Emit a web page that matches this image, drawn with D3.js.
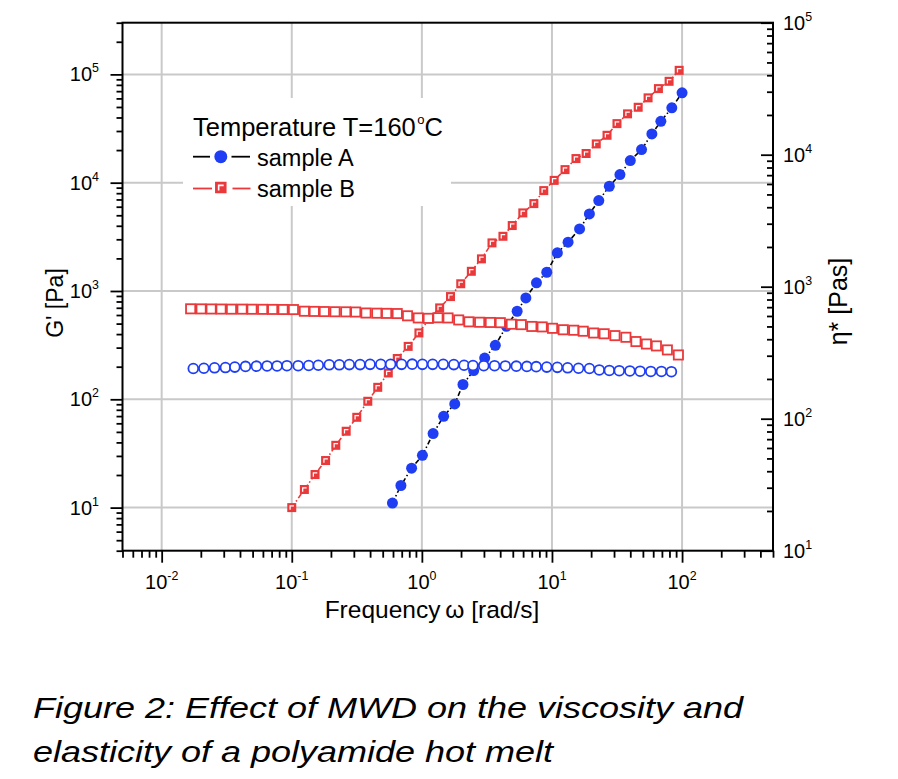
<!DOCTYPE html>
<html><head><meta charset="utf-8">
<script src="https://cdn.jsdelivr.net/npm/d3@7/dist/d3.min.js"></script>
<style>
body{margin:0;background:#fff}
svg{display:block}
text{font-family:"Liberation Sans",Arial,Helvetica,sans-serif;fill:#000}
</style>
</head><body>
<svg id="chart" width="898" height="779"></svg>
<script>
// ---------- DATA ----------
// Sample B, storage modulus G' [Pa] (filled red squares, left axis)
const omegaB_G = [0.100,0.125,0.151,0.182,0.218,0.262,0.316,0.384,0.458,0.552,0.647,0.785,0.949,1.14,1.37,1.66,1.99,2.40,2.87,3.46,4.20,4.95,5.97,7.26,8.65,10.4,12.6,15.3,18.3,21.9,26.5,31.6,38.1,46.0,54.8,65.8,79.5,95.0];
const gB = [10.0,14.7,20.2,27.2,37.6,50.7,68.2,95.9,129,175,238,308,410,553,698,888,1166,1520,1980,2780,3200,4020,5260,6410,8450,10500,13200,16700,18600,22800,27400,35100,43200,49700,60700,73900,86300,109000];
// Sample A, storage modulus G' [Pa] (filled blue circles, left axis)
const omegaA_G = [0.594,0.690,0.834,1.01,1.22,1.47,1.79,2.07,2.50,3.04,3.67,4.46,5.40,6.30,7.60,9.12,11.0,13.3,16.3,19.4,22.9,27.6,33.3,40.0,48.8,58.6,68.7,83.4,100];
const gA = [11.0,16.0,23.1,30.4,48.2,69.7,90.7,137,184,240,315,472,650,863,1190,1489,2250,2820,3740,5150,6840,9270,11880,16000,20200,28200,36900,49100,67500];
// Sample B, complex viscosity eta* [Pas] (open red squares, right axis)
const omegaB_E = [0.0167,0.0201,0.0240,0.0286,0.0344,0.0415,0.0495,0.0597,0.0713,0.0857,0.103,0.125,0.149,0.178,0.215,0.260,0.310,0.372,0.450,0.536,0.647,0.776,0.938,1.12,1.33,1.59,1.92,2.30,2.78,3.36,4.01,4.87,5.81,7.00,8.41,10.1,12.2,14.7,17.4,20.9,25.2,30.5,37.0,44.2,53.2,63.5,77.1,93.7];
const etaB = [680,679,678,677,676,676,675,674,673,672,671,652,650,648,646,645,643,632,630,628,626,602,580,576,582,580,560,542,538,536,534,520,516,500,496,484,472,468,460,446,440,426,414,384,368,356,332,304];
// Sample A, complex viscosity eta* [Pas] (open blue circles, right axis)
const omegaA_E = [0.0175,0.0211,0.0255,0.0309,0.0365,0.0441,0.0535,0.0646,0.0771,0.0918,0.112,0.135,0.160,0.194,0.232,0.277,0.335,0.400,0.483,0.575,0.698,0.843,1.01,1.21,1.46,1.76,2.11,2.47,2.99,3.62,4.38,5.32,6.41,7.57,9.12,11.0,13.2,16.0,19.4,23.1,27.6,32.9,39.7,47.6,57.5,69.4,82.8];
const etaA = [240,241,243,244,246,249,250,251,251,252,252,253,254,256,256,257,257,258,258,258,258,259,258,258,258,257,254,253,252,252,251,250,249,248,246,245,243,241,240,234,232,231,230,229,228,228,227];

// Axis ranges and tick labels
const xDomain = [0.005, 500];
const yLeftDomain = [4, 3e5];
const yRightDomain = [10, 1e5];
const xMajor = [0.01, 0.1, 1, 10, 100];
const xMajorExp = ["-2", "-1", "0", "1", "2"];
const yLeftMajor = [10, 100, 1000, 10000, 100000];
const yLeftMajorExp = ["1", "2", "3", "4", "5"];
const yRightMajor = [10, 100, 1000, 10000, 100000];
const yRightMajorExp = ["1", "2", "3", "4", "5"];

const legendTitle = "Temperature T=160";
const seriesNames = ["sample A", "sample B"];
const xTitle = "Frequency\u2009\u03c9 [rad/s]";
const yLeftTitle = "G' [Pa]";
const yRightTitle = "\u03b7* [Pas]";
const caption = ["Figure 2: Effect of MWD on the viscosity and", "elasticity of a polyamide hot melt"];

// ---------- LAYOUT ----------
const L = 122.5, R = 773, T = 22.7, B = 550.7;
const BLUE = "#1f3ef4", RED = "#e9393b", GRID = "#c9c9c9";

const svg = d3.select("#chart");
svg.append("rect").attr("width", 898).attr("height", 779).attr("fill", "#fff");

const x = d3.scaleLog().domain(xDomain).range([L, R]);
const yL = d3.scaleLog().domain(yLeftDomain).range([B, T]);
const yR = d3.scaleLog().domain(yRightDomain).range([B, T]);

// gridlines
const grid = svg.append("g");
grid.selectAll("line.v").data(xMajor).join("line")
  .attr("x1", d => x(d)).attr("x2", d => x(d)).attr("y1", T).attr("y2", B)
  .attr("stroke", GRID).attr("stroke-width", 2);
grid.selectAll("line.h").data(yLeftMajor).join("line")
  .attr("x1", L).attr("x2", R).attr("y1", d => yL(d)).attr("y2", d => yL(d))
  .attr("stroke", GRID).attr("stroke-width", 2);

// legend background (hides grid)
svg.append("rect").attr("x", 183).attr("y", 98).attr("width", 268).attr("height", 108).attr("fill", "#fff");

// ---------- SERIES ----------
const zip = (a, b) => a.map((v, i) => [v, b[i]]);
const dataBG = zip(omegaB_G, gB), dataAG = zip(omegaA_G, gA);
const dataBE = zip(omegaB_E, etaB), dataAE = zip(omegaA_E, etaA);

const lineL = d3.line().x(d => x(d[0])).y(d => yL(d[1]));
const DASH = "5,2.5,1.5,2.5";
svg.append("path").attr("d", lineL(dataBG)).attr("fill", "none").attr("stroke", RED)
  .attr("stroke-width", 1.6).attr("stroke-dasharray", DASH);
svg.append("path").attr("d", lineL(dataAG)).attr("fill", "none").attr("stroke", "#000")
  .attr("stroke-width", 1.6).attr("stroke-dasharray", DASH);

function filledSquare(g, cx, cy, s) {
  g.append("rect").attr("x", cx - s / 2).attr("y", cy - s / 2).attr("width", s).attr("height", s).attr("fill", RED);
  const k = s / 8;
  g.append("path").attr("d", `M${cx - 1.5 * k},${cy + 2 * k}L${cx - 1.5 * k},${cy - 1.5 * k}L${cx + 2 * k},${cy - 1.5 * k}`)
    .attr("fill", "none").attr("stroke", "#fff").attr("stroke-width", 1.1 * k);
}
const gBG = svg.append("g");
dataBG.forEach(d => filledSquare(gBG, x(d[0]), yL(d[1]), 9));
svg.append("g").selectAll("circle").data(dataAG).join("circle")
  .attr("cx", d => x(d[0])).attr("cy", d => yL(d[1])).attr("r", 5.5).attr("fill", BLUE);

svg.append("g").selectAll("circle").data(dataAE).join("circle")
  .attr("cx", d => x(d[0])).attr("cy", d => yR(d[1])).attr("r", 4.9)
  .attr("fill", "#fff").attr("stroke", BLUE).attr("stroke-width", 1.8);
svg.append("g").selectAll("rect").data(dataBE).join("rect")
  .attr("x", d => x(d[0]) - 4.6).attr("y", d => yR(d[1]) - 4.6).attr("width", 9.2).attr("height", 9.2)
  .attr("fill", "#fff").attr("stroke", RED).attr("stroke-width", 1.8);

// ---------- AXES ----------
function styleAxis(g) {
  g.select(".domain").remove();
  g.selectAll(".tick line").attr("stroke", "#000").attr("stroke-width", 1.8);
}
const isMajor = v => Math.abs(Math.log10(v) - Math.round(Math.log10(v))) < 1e-9;
const xMinor = x.ticks().filter(v => !isMajor(v));
const yLMinor = yL.ticks().filter(v => !isMajor(v));
const yRMinor = yR.ticks().filter(v => !isMajor(v));

svg.append("g").attr("transform", `translate(0,${B})`)
  .call(d3.axisBottom(x).tickValues(xMinor).tickSize(7).tickSizeOuter(0).tickFormat("")).call(styleAxis);
svg.append("g").attr("transform", `translate(0,${B})`)
  .call(d3.axisBottom(x).tickValues(xMajor).tickSize(12).tickSizeOuter(0).tickFormat("")).call(styleAxis);
svg.append("g").attr("transform", `translate(${L},0)`)
  .call(d3.axisLeft(yL).tickValues(yLMinor).tickSize(6).tickSizeOuter(0).tickFormat("")).call(styleAxis);
svg.append("g").attr("transform", `translate(${L},0)`)
  .call(d3.axisLeft(yL).tickValues(yLeftMajor).tickSize(12).tickSizeOuter(0).tickFormat("")).call(styleAxis);
svg.append("g").attr("transform", `translate(${R},0)`)
  .call(d3.axisRight(yR).tickValues(yRMinor).tickSize(-6).tickSizeOuter(0).tickFormat("")).call(styleAxis);
svg.append("g").attr("transform", `translate(${R},0)`)
  .call(d3.axisRight(yR).tickValues(yRightMajor).tickSize(-12).tickSizeOuter(0).tickFormat("")).call(styleAxis);

// frame
svg.append("rect").attr("x", L).attr("y", T).attr("width", R - L).attr("height", B - T)
  .attr("fill", "none").attr("stroke", "#000").attr("stroke-width", 2);

// tick labels
function pow10(g, px, py, exp, anchor, size) {
  const t = g.append("text").attr("x", px).attr("y", py).attr("text-anchor", anchor).attr("font-size", size);
  t.append("tspan").text("10");
  t.append("tspan").attr("dy", -size * 0.45).attr("font-size", size * 0.62).text(exp);
}
const lab = svg.append("g");
xMajor.forEach((v, i) => pow10(lab, x(v), 588.5, xMajorExp[i], "middle", 20));
yLeftMajor.forEach((v, i) => pow10(lab, 99, yL(v) + 7, yLeftMajorExp[i], "end", 20));
yRightMajor.forEach((v, i) => pow10(lab, 783, yR(v) + 7.5, yRightMajorExp[i], "start", 20));

// axis titles
svg.append("text").attr("x", 432).attr("y", 617.5).attr("text-anchor", "middle").attr("font-size", 24.5).text(xTitle);
svg.append("text").attr("transform", "translate(62.5,303) rotate(-90)").attr("text-anchor", "middle").attr("font-size", 23).text(yLeftTitle);
svg.append("text").attr("transform", "translate(846.5,301.5) rotate(-90)").attr("text-anchor", "middle").attr("font-size", 25).text(yRightTitle);

// legend
const lg = svg.append("g");
const lt = lg.append("text").attr("x", 193).attr("y", 135.5).attr("font-size", 25.5);
lt.append("tspan").text(legendTitle);
lt.append("tspan").attr("dx", 1.5).attr("dy", -12).attr("font-size", 13).text("o");
lt.append("tspan").attr("dy", 12).text("C");
// sample A
lg.append("line").attr("x1", 193).attr("x2", 210).attr("y1", 156.7).attr("y2", 156.7).attr("stroke", "#000").attr("stroke-width", 1.8);
lg.append("line").attr("x1", 231.5).attr("x2", 250).attr("y1", 156.7).attr("y2", 156.7).attr("stroke", "#000").attr("stroke-width", 1.8);
lg.append("circle").attr("cx", 220.8).attr("cy", 156.7).attr("r", 6.5).attr("fill", BLUE);
lg.append("text").attr("x", 257).attr("y", 165.5).attr("font-size", 23.5).text(seriesNames[0]);
// sample B
lg.append("line").attr("x1", 193).attr("x2", 212).attr("y1", 188.5).attr("y2", 188.5).attr("stroke", RED).attr("stroke-width", 1.8);
lg.append("line").attr("x1", 232.5).attr("x2", 250.5).attr("y1", 188.5).attr("y2", 188.5).attr("stroke", RED).attr("stroke-width", 1.8);
filledSquare(lg, 220.8, 187.5, 11.5);
lg.append("text").attr("x", 257).attr("y", 196.5).attr("font-size", 23.5).text(seriesNames[1]);

// caption
caption.forEach((c, i) => {
  svg.append("text").attr("transform", `translate(33,${718 + i * 44}) scale(1.2,1)`)
    .attr("font-size", 30).attr("font-style", "italic").text(c);
});
</script>
</body></html>
